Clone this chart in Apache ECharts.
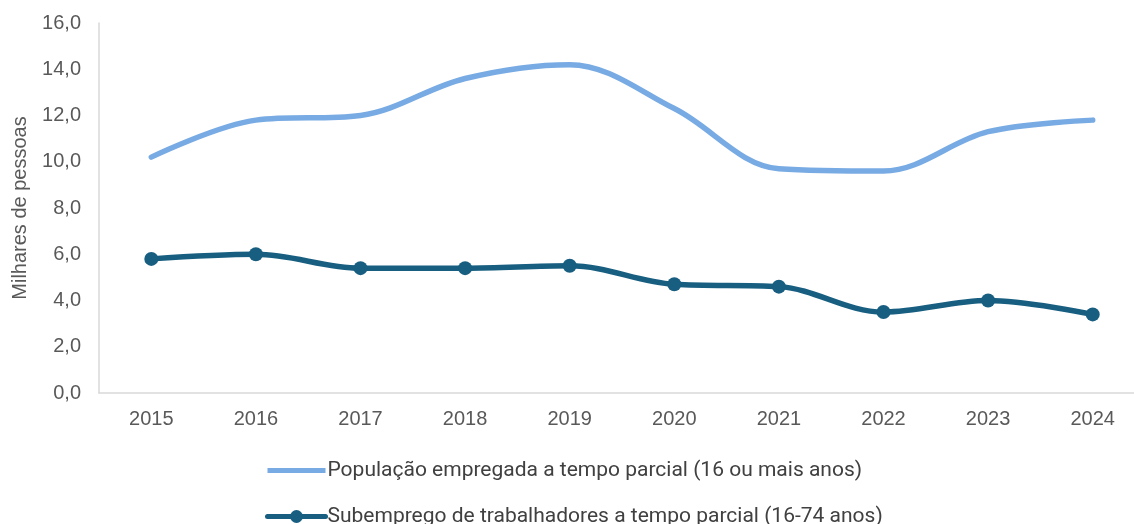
<!DOCTYPE html>
<html>
<head>
<meta charset="utf-8">
<script src="https://cdn.jsdelivr.net/npm/echarts@6/dist/echarts.min.js"></script>
<style>
    html, body { margin: 0; padding: 0; background: #fff; }
    #chart { width: 1134px; height: 524px; }
</style>
</head>
<body>
<div id="chart"></div>
<script>
const years = ['2015', '2016', '2017', '2018', '2019', '2020', '2021', '2022', '2023', '2024']
const empregada = [10.2, 11.8, 12.0, 13.6, 14.2, 12.3, 9.7, 9.6, 11.3, 11.8]
const subemprego = [5.8, 6.0, 5.4, 5.4, 5.5, 4.7, 4.6, 3.5, 4.0, 3.4]

const nomeEmpregada = 'População empregada a tempo parcial (16 ou mais anos)'
const nomeSubemprego = 'Subemprego de trabalhadores a tempo parcial (16-74 anos)'

const azulClaro = '#78abe3'
const azulEscuro = '#175e80'
const textoEixo = { color: '#595959', fontSize: 20, fontFamily: 'Liberation Sans, Arial, sans-serif' }

const chart = echarts.init(document.getElementById('chart'))

chart.setOption({
    backgroundColor: '#fff',
    animation: false,
    grid: { left: 99, top: 23, width: 1046, bottom: 131, outerBoundsMode: 'none' },
    legend: {
        orient: 'vertical',
        left: 260,
        top: 455,
        height: 150,
        itemGap: 25,
        itemWidth: 58,
        itemHeight: 16,
        lineStyle: { width: 5 },
        textStyle: { color: '#404040', fontSize: 21, fontFamily: 'Roboto, sans-serif', padding: [0, 0, 0, -3] },
        data: [
            { name: nomeEmpregada, icon: 'path://M0,0 L58,0 L58,5 L0,5 Z' },
            { name: nomeSubemprego }
        ]
    },
    xAxis: {
        type: 'category',
        data: years,
        boundaryGap: true,
        axisLine: { lineStyle: { color: '#d9d9d9', width: 1.5 } },
        axisTick: { show: false },
        axisLabel: { ...textoEixo, margin: 16 }
    },
    yAxis: {
        type: 'value',
        min: 0,
        max: 16,
        interval: 2,
        name: 'Milhares de pessoas',
        nameLocation: 'middle',
        nameGap: 69,
        nameTextStyle: textoEixo,
        axisLine: { show: true, lineStyle: { color: '#d9d9d9', width: 1.5 } },
        axisTick: { show: false },
        splitLine: { show: false },
        axisLabel: {
            ...textoEixo,
            margin: 18,
            formatter: v => v.toFixed(1).replace('.', ',')
        }
    },
    series: [
        {
            name: nomeEmpregada,
            type: 'line',
            data: empregada,
            smooth: 0.35,
            symbol: 'none',
            lineStyle: { color: azulClaro, width: 5.5, cap: 'round' },
            itemStyle: { color: azulClaro }
        },
        {
            name: nomeSubemprego,
            type: 'line',
            data: subemprego,
            smooth: 0.35,
            symbol: 'circle',
            symbolSize: 14,
            lineStyle: { color: azulEscuro, width: 5.5, cap: 'round' },
            itemStyle: { color: azulEscuro }
        }
    ]
})
</script>
</body>
</html>
